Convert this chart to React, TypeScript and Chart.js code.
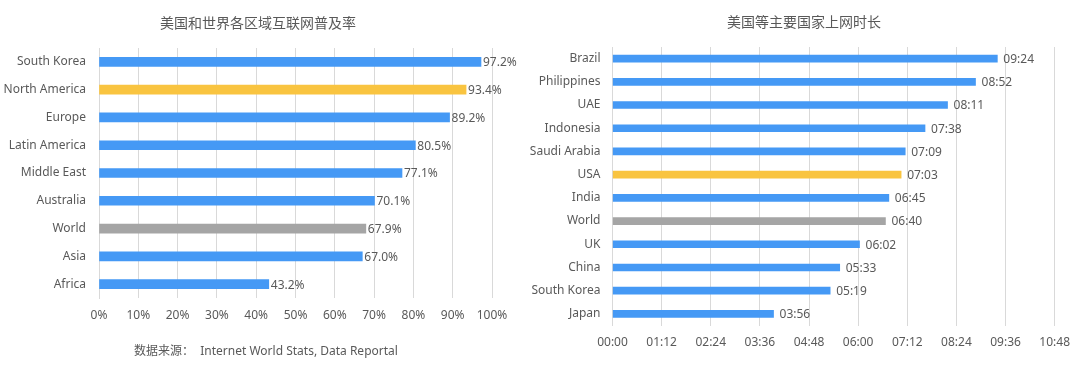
import React, { useEffect, useRef } from "react";
import { Chart, registerables } from "chart.js";

Chart.register(...registerables);

const regionLabels = ["South Korea", "North America", "Europe", "Latin America", "Middle East", "Australia", "World", "Asia", "Africa"];
const regionValues = [97.2, 93.4, 89.2, 80.5, 77.1, 70.1, 67.9, 67.0, 43.2];
const regionColors = ["#4599F5", "#F9C440", "#4599F5", "#4599F5", "#4599F5", "#4599F5", "#A5A5A5", "#4599F5", "#4599F5"];

const countryLabels = ["Brazil", "Philippines", "UAE", "Indonesia", "Saudi Arabia", "USA", "India", "World", "UK", "China", "South Korea", "Japan"];
// minutes per day online (HH:MM)
const countryMinutes = [564, 532, 491, 458, 429, 423, 405, 400, 362, 333, 319, 236];
const countryColors = ["#4599F5", "#4599F5", "#4599F5", "#4599F5", "#4599F5", "#F9C440", "#4599F5", "#A5A5A5", "#4599F5", "#4599F5", "#4599F5", "#4599F5"];

const leftTitle = "美国和世界各区域互联网普及率";
const rightTitle = "美国等主要国家上网时长";
const sourceText = "数据来源：  Internet World Stats, Data Reportal";

const FONT = "'Noto Sans', 'Noto Sans CJK SC', sans-serif";
const TEXT = "#595959";
const GRID = "#D9D9D9";

const fmtTime = (m: number) => {
  const h = Math.floor(m / 60);
  const mm = Math.round(m - h * 60);
  return String(h).padStart(2, "0") + ":" + String(mm).padStart(2, "0");
};

function makeValueLabelPlugin(fmt: (v: number) => string, gap: number) {
  return {
    id: "valueLabels",
    afterDatasetsDraw(chart: any) {
      const ctx = chart.ctx;
      const meta = chart.getDatasetMeta(0);
      const data = chart.data.datasets[0].data as number[];
      ctx.save();
      ctx.font = `12px ${FONT}`;
      ctx.fillStyle = TEXT;
      ctx.textAlign = "left";
      ctx.textBaseline = "middle";
      meta.data.forEach((bar: any, i: number) => {
        ctx.fillText(fmt(data[i]), bar.x + gap, bar.y + 1);
      });
      ctx.restore();
    },
  };
}

function makeTextPlugin(items: { text: string; x: number; y: number; size: number; align: CanvasTextAlign }[]) {
  return {
    id: "extraText",
    afterDraw(chart: any) {
      const ctx = chart.ctx;
      ctx.save();
      ctx.fillStyle = TEXT;
      ctx.textBaseline = "middle";
      items.forEach((it) => {
        ctx.font = `${it.size}px ${FONT}`;
        ctx.textAlign = it.align;
        ctx.fillText(it.text, it.x, it.y);
      });
      ctx.restore();
    },
  };
}

function ChartCanvas({ config, width }: { config: () => any; width: number }) {
  const ref = useRef<HTMLCanvasElement>(null);
  useEffect(() => {
    const chart = new Chart(ref.current!, config());
    return () => chart.destroy();
  }, []);
  return <canvas ref={ref} width={width} height={368} style={{ width, height: 368, display: "block" }} />;
}

const leftConfig = () => ({
  type: "bar",
  data: {
    labels: regionLabels,
    datasets: [{ data: regionValues, backgroundColor: regionColors, barThickness: 9 }],
  },
  options: {
    indexAxis: "y",
    responsive: false,
    animation: false,
    layout: { padding: { left: 0, right: 48, top: 48, bottom: 0 } },
    plugins: { legend: { display: false }, tooltip: { enabled: false }, title: { display: false } },
    scales: {
      x: {
        min: 0,
        max: 100,
        ticks: { stepSize: 10, color: TEXT, font: { size: 12, family: FONT }, padding: 10, callback: (v: any) => v + "%" },
        grid: { color: GRID, drawTicks: false },
        border: { display: false },
        afterFit: (s: any) => { s.height = 70; },
      },
      y: {
        ticks: { color: TEXT, font: { size: 12, family: FONT }, padding: 13 },
        grid: { display: false, drawTicks: false },
        border: { display: true, color: GRID },
        afterFit: (s: any) => { s.width = 99; },
      },
    },
  },
  plugins: [
    makeValueLabelPlugin((v) => v.toFixed(1) + "%", 2),
    makeTextPlugin([
      { text: leftTitle, x: 258, y: 24, size: 14, align: "center" },
      { text: sourceText, x: 134, y: 352, size: 12, align: "left" },
    ]),
  ],
});

const rightConfig = () => ({
  type: "bar",
  data: {
    labels: countryLabels,
    datasets: [{ data: countryMinutes, backgroundColor: countryColors, barThickness: 7 }],
  },
  options: {
    indexAxis: "y",
    responsive: false,
    animation: false,
    layout: { padding: { left: 0, right: 19.5, top: 47, bottom: 0 } },
    plugins: { legend: { display: false }, tooltip: { enabled: false }, title: { display: false } },
    scales: {
      x: {
        min: 0,
        max: 648,
        ticks: { stepSize: 72, color: TEXT, font: { size: 12, family: FONT }, padding: 10, callback: (v: any) => fmtTime(Number(v)) },
        grid: { color: GRID, drawTicks: false },
        border: { display: false },
        afterFit: (s: any) => { s.height = 42.5; },
      },
      y: {
        ticks: { color: TEXT, font: { size: 12, family: FONT }, padding: 12 },
        grid: { display: false, drawTicks: false },
        border: { display: true, color: GRID },
        afterFit: (s: any) => { s.width = 112.5; },
      },
    },
  },
  plugins: [
    makeValueLabelPlugin((v) => fmtTime(v), 6),
    makeTextPlugin([{ text: rightTitle, x: 304, y: 23, size: 14, align: "center" }]),
  ],
});

export default function App() {
  return (
    <div style={{ position: "absolute", left: 0, top: 0, width: 1080, height: 368, background: "#fff" }}>
      <div style={{ position: "absolute", left: 0, top: 0 }}>
        <ChartCanvas config={leftConfig} width={540} />
      </div>
      <div style={{ position: "absolute", left: 500, top: 0 }}>
        <ChartCanvas config={rightConfig} width={580} />
      </div>
    </div>
  );
}
